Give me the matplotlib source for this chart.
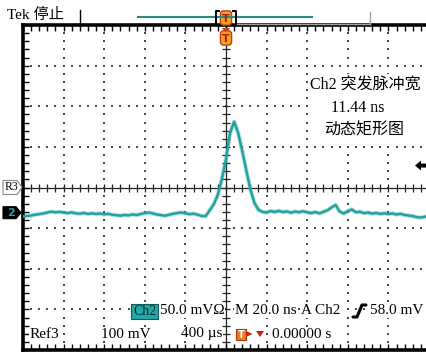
import matplotlib
matplotlib.use("Agg")
import matplotlib.pyplot as plt
from matplotlib.patches import Rectangle, FancyBboxPatch, Polygon

plt.rcParams["font.family"] = ["Liberation Serif", "Noto Sans CJK SC", "DejaVu Sans"]

# ---- acquisition: Ch2, 20 ns/div, 50 mV/div, values in mV above ground ----
time_ns = list(range(-100, 101, 2))
ch2_mv = [
    -4.9, -4.0, -3.5, -2.5, -1.8, -1.0, 0.3, 1.2, 0.5, 1.0,
    0.2, -0.5, 0.4, -0.8, -1.2, -0.3, -1.5, -0.9, -1.6, -1.0,
    -2.0, -1.4, -2.6, -3.0, -3.7, -2.8, -3.3, -2.2, -2.9, -1.6,
    -0.6, 0.2, -1.0, -2.2, -3.0, -3.8, -2.5, -1.4, -0.4, 0.3,
    -0.8, -1.8, -1.2, -2.5, -4.0, -4.2, 3.0, 10.5, 22.0, 42.0,
    66.0, 98.0, 112.0, 98.0, 76.0, 52.0, 29.0, 12.0, 3.5, 1.0,
    0.2, 2.0, 1.0, 2.2, 0.8, 1.5, 0.0, 1.4, 0.6, 1.8,
    0.4, -0.5, 0.8, -0.8, 1.0, 3.0, 6.5, 9.5, 1.5, -1.0,
    2.0, 4.0, 0.5, 1.2, -0.6, 0.2, -1.2, -0.3, -1.5, -0.8,
    -1.6, -1.0, -2.2, -1.4, -2.8, -3.5, -4.2, -5.5, -6.0, -5.0,
    -4.5,
]
trigger_level_mv = 58.0
ns_per_div = 20.0
mv_per_div = 50.0
screen_center_mv = 31.0          # ground sits 0.62 div below screen centre

header_text = "Tek 停止"
meas_lines = ["Ch2 突发脉冲宽", "11.44 ns", "动态矩形图"]
status_row1 = ["50.0 mVΩ", "M 20.0 ns", "A Ch2", "58.0 mV"]
status_row2 = ["Ref3", "100 mV", "400 µs", "0.00000 s"]

W, H = 426, 354
fig = plt.figure(figsize=(W / 100, H / 100), dpi=100)
ax = fig.add_axes([23 / W, 4 / H, 406 / W, 325 / H])
xmin, xmax = -5 * ns_per_div, 5 * ns_per_div
ymin, ymax = screen_center_mv - 4 * mv_per_div, screen_center_mv + 4 * mv_per_div
ax.set_xlim(xmin, xmax)
ax.set_ylim(ymin, ymax)

TEAL = "#23a3a0"
GRID = "#4a4a4a"

# frame
for side in ("left", "top", "bottom"):
    ax.spines[side].set_linewidth(2.6)
    ax.spines[side].set_color("black")
ax.spines["right"].set_visible(False)
step_x = ns_per_div / 5
step_y = mv_per_div / 5
ax.set_xticks([xmin + step_x * i for i in range(51)])
ax.set_yticks([ymin + step_y * i for i in range(41)])
ax.tick_params(direction="in", length=4, width=1, top=True, bottom=True,
               left=True, right=False, labelbottom=False, labelleft=False)

# dotted graticule
for k in range(-4, 5):
    if k == 0:
        continue
    gx = k * ns_per_div
    ax.scatter([gx] * 41, [ymin + step_y * i for i in range(41)], s=1.6,
               marker="s", color=GRID, linewidths=0, zorder=1)
for j in range(-3, 4):
    if j == 0:
        continue
    gy = screen_center_mv + j * mv_per_div
    ax.scatter([xmin + step_x * i for i in range(51)], [gy] * 51, s=1.6,
               marker="s", color=GRID, linewidths=0, zorder=1)

# centre cross with tick marks
ax.axhline(screen_center_mv, color="#222", lw=0.9, zorder=1)
ax.axvline(0, color="#222", lw=0.9, zorder=1)
ax.plot([xmin + step_x * i for i in range(51)], [screen_center_mv] * 51,
        ls="none", marker="|", ms=6, mew=0.9, color="#222", zorder=1)
ax.plot([0] * 41, [ymin + step_y * i for i in range(41)],
        ls="none", marker="_", ms=6, mew=0.9, color="#222", zorder=1)

# waveform: soft halo plus the trace itself
ax.plot(time_ns, ch2_mv, color=TEAL, lw=3.2, alpha=0.3, solid_joinstyle="round",
        solid_capstyle="round", zorder=3)
ax.plot(time_ns, ch2_mv, color=TEAL, lw=1.8, solid_joinstyle="round",
        solid_capstyle="round", zorder=3)

# ---- overlay in pixel coordinates for the screen furniture ----
ov = fig.add_axes([0, 0, 1, 1], zorder=5)
ov.set_xlim(0, W)
ov.set_ylim(H, 0)
ov.axis("off")
ov.patch.set_alpha(0)


def px_y(mv):
    return ov.transData.inverted().transform(ax.transData.transform((0, mv)))[1]


def px_x(ns):
    return ov.transData.inverted().transform(ax.transData.transform((ns, 0)))[0]


fig.canvas.draw()
x_trig = px_x(0)

ov.text(7, 15, header_text, fontsize=11, va="center", ha="left")
ov.plot([80, 80], [10, 25], color="black", lw=1)
ov.plot([138, 312], [17, 17], color="#2b8b8b", lw=1.5)
ov.plot([234, 370], [23.5, 23.5], color="#a0a0a0", lw=1)
ov.plot([370, 370], [12, 23.5], color="#a0a0a0", lw=1)
# record-window brackets
ov.plot([219, 216, 216, 219], [11, 11, 25, 25], color="black", lw=1.4)
ov.plot([233, 236, 236, 233], [11, 11, 25, 25], color="black", lw=1.4)


def t_badge(cx, cy, w=10, h=13):
    ov.add_patch(FancyBboxPatch((cx - w / 2, cy - h / 2), w, h,
                                boxstyle="round,pad=0.6,rounding_size=3",
                                fc="#f0a21c", ec="#c0401a", lw=1.0))
    ov.text(cx, cy + 0.5, "T", fontsize=8, fontweight="bold", color="#b01e0e",
            ha="center", va="center", family="DejaVu Sans")


t_badge(x_trig, 18)
ov.add_patch(Polygon([[x_trig - 4, 28], [x_trig + 4, 28], [x_trig, 33]],
                     fc="#c0401a", ec="none"))
t_badge(x_trig, 38)

# trigger level marker on the right edge
ty = px_y(trigger_level_mv)
ov.add_patch(Polygon([[415, ty], [421, ty - 5], [421, ty - 2], [426, ty - 2],
                      [426, ty + 2], [421, ty + 2], [421, ty + 5]],
                     fc="black", ec="none"))

# reference and channel markers on the left edge
ry = px_y(screen_center_mv)
ov.add_patch(Polygon([[3, ry - 7], [17, ry - 7], [22, ry], [17, ry + 7], [3, ry + 7]],
                     fc="white", ec="#888", lw=0.8))
ov.text(11, ry, "R3", fontsize=8.5, ha="center", va="center")
gy = px_y(0)
ov.add_patch(Polygon([[3, gy - 6], [16, gy - 6], [21, gy], [16, gy + 6], [3, gy + 6]],
                     fc="black", ec="black", lw=0.8))
ov.text(11, gy + 0.5, "2", fontsize=8, fontweight="bold", color=TEAL,
        ha="center", va="center", family="DejaVu Sans")

# measurement readout
ov.add_patch(Rectangle((308, 74), 118, 66, fc="white", ec="none"))
ov.text(365, 86, meas_lines[0], fontsize=11.5, ha="center", va="center")
ov.text(358, 108, meas_lines[1], fontsize=11.5, ha="center", va="center")
ov.text(364, 130, meas_lines[2], fontsize=11.5, ha="center", va="center")

# status rows
row1, row2 = 311, 334
bb = dict(fc="white", ec="none", pad=0.5)
ov.add_patch(Rectangle((131, row1 - 7.5), 27, 15, fc="#22a8a8", ec="#0c5a5a", lw=0.8))
ov.text(144.5, row1 + 0.5, "Ch2", fontsize=10, ha="center", va="center", color="#072b2b")
ov.text(160, row1, status_row1[0], fontsize=11, ha="left", va="center", bbox=bb)
ov.text(235, row1, status_row1[1], fontsize=11, ha="left", va="center", bbox=bb)
ov.text(301, row1, status_row1[2], fontsize=11, ha="left", va="center", bbox=bb)
ov.plot([353, 357, 362, 366], [317, 317, 305, 305], color="black", lw=2.2,
        solid_capstyle="round")
ov.text(370, row1, status_row1[3], fontsize=11, ha="left", va="center", bbox=bb)

ov.text(30, row2, status_row2[0], fontsize=11, ha="left", va="center", bbox=bb)
ov.text(101, row2, status_row2[1], fontsize=11, ha="left", va="center", bbox=bb)
ov.text(181, row2, status_row2[2], fontsize=11, ha="left", va="center", bbox=bb)
ov.add_patch(Rectangle((236, row2 - 5.5), 10, 11, fc="#e0801a", ec="#b03010", lw=0.8))
ov.text(241, row2 + 0.5, "T", fontsize=7, fontweight="bold", color="white",
        ha="center", va="center", family="DejaVu Sans")
ov.annotate("", xy=(255, row2), xytext=(247, row2),
            arrowprops=dict(arrowstyle="-|>", color="#d02010", lw=1.2,
                            mutation_scale=6))
ov.add_patch(Polygon([[256, row2 - 3], [264, row2 - 3], [260, row2 + 3]],
                     fc="#d02010", ec="none"))
ov.text(272, row2, status_row2[3], fontsize=11, ha="left", va="center", bbox=bb)

fig.savefig("out.png", dpi=100)
